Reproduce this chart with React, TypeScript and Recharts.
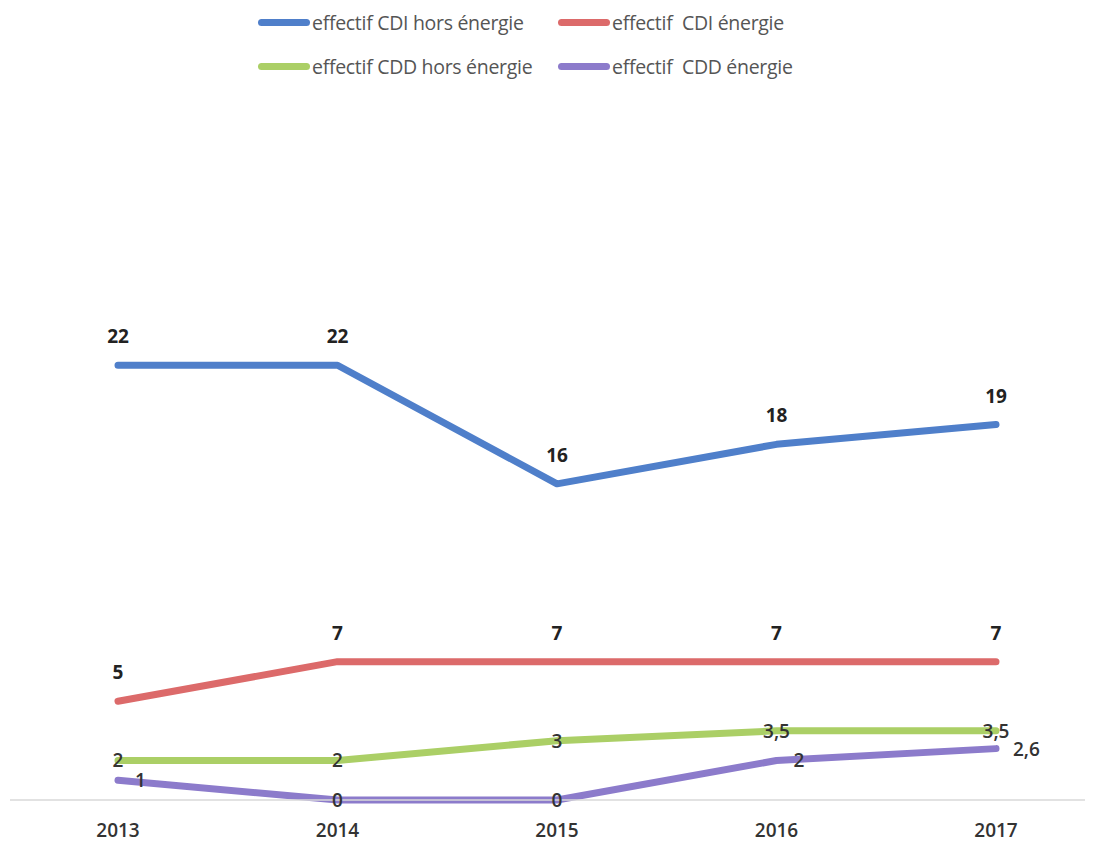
import { LineChart, Line, XAxis, YAxis, LabelList } from 'recharts';

// Années (axe X)
const years = ['2013', '2014', '2015', '2016', '2017'];

// Effectifs par série
const cdiHorsEnergie = [22, 22, 16, 18, 19];
const cdiEnergie = [5, 7, 7, 7, 7];
const cddHorsEnergie = [2, 2, 3, 3.5, 3.5];
const cddEnergie = [1, 0, 0, 2, 2.6];

const series = [
  { key: 'cdiHors', name: 'effectif CDI hors énergie', values: cdiHorsEnergie, color: '#4f7fca', label: 'above' },
  { key: 'cdiEn', name: 'effectif  CDI énergie', values: cdiEnergie, color: '#dc6a6a', label: 'above' },
  { key: 'cddHors', name: 'effectif CDD hors énergie', values: cddHorsEnergie, color: '#abcf66', label: 'center' },
  { key: 'cddEn', name: 'effectif  CDD énergie', values: cddEnergie, color: '#8c7bcb', label: 'side' },
];

const data = years.map((year, i) => {
  const row: any = { year };
  series.forEach((s) => {
    row[s.key] = s.values[i];
  });
  return row;
});

const FONT = '"Open Sans", "DejaVu Sans", sans-serif';

const fmt = (v: number) => String(v).replace('.', ',');

// étiquettes de valeurs selon le style de la série
const makeLabel = (mode: string) => (props: any) => {
  const { x, y, value } = props;
  if (mode === 'above') {
    return (
      <text x={x} y={y - 22} textAnchor="middle" fontFamily={FONT} fontSize={19} fontWeight={700} fill="#222">
        {fmt(value)}
      </text>
    );
  }
  if (mode === 'side' && value !== 0) {
    return (
      <text x={x + 17} y={y + 7} textAnchor="start" fontFamily={FONT} fontSize={19} fontWeight={600} fill="#333">
        {fmt(value)}
      </text>
    );
  }
  return (
    <text x={x} y={y + 7} textAnchor="middle" fontFamily={FONT} fontSize={19} fontWeight={600} fill="#333">
      {fmt(value)}
    </text>
  );
};

const LegendBox = () => (
  <div
    style={{
      position: 'absolute',
      top: 8,
      left: 258,
      display: 'grid',
      gridTemplateColumns: '300px 300px',
      rowGap: 16,
      fontFamily: FONT,
      fontSize: 19.5,
      color: '#555',
    }}
  >
    {series.map((s) => (
      <div key={s.key} style={{ display: 'flex', alignItems: 'center', height: 28 }}>
        <span
          style={{
            display: 'inline-block',
            width: 52,
            height: 7,
            borderRadius: 4,
            background: s.color,
            marginRight: 2,
            flex: 'none',
          }}
        />
        <span style={{ whiteSpace: 'pre', letterSpacing: -0.3 }}>{s.name}</span>
      </div>
    ))}
  </div>
);

export default function App() {
  return (
    <div style={{ position: 'absolute', top: 0, left: 0, width: 1093, height: 846, background: '#fff' }}>
      <LegendBox />
      <LineChart width={1093} height={846} data={data} margin={{ top: 306, right: 8, bottom: 16, left: 10 }}>
        <XAxis
          dataKey="year"
          padding={{ left: 108, right: 89 }}
          height={30}
          tickLine={false}
          tickSize={0}
          tickMargin={24}
          axisLine={{ stroke: '#d9d9d9', strokeWidth: 1.5 }}
          tick={{ fill: '#333', fontFamily: FONT, fontSize: 19, fontWeight: 600 }}
        />
        <YAxis hide domain={[0, 25]} />
        {series.map((s) => (
          <Line
            key={s.key}
            dataKey={s.key}
            name={s.name}
            type="linear"
            stroke={s.color}
            strokeWidth={7}
            strokeLinecap="round"
            strokeLinejoin="round"
            dot={false}
            activeDot={false}
            isAnimationActive={false}
          >
            <LabelList dataKey={s.key} content={makeLabel(s.label)} />
          </Line>
        ))}
      </LineChart>
    </div>
  );
}
